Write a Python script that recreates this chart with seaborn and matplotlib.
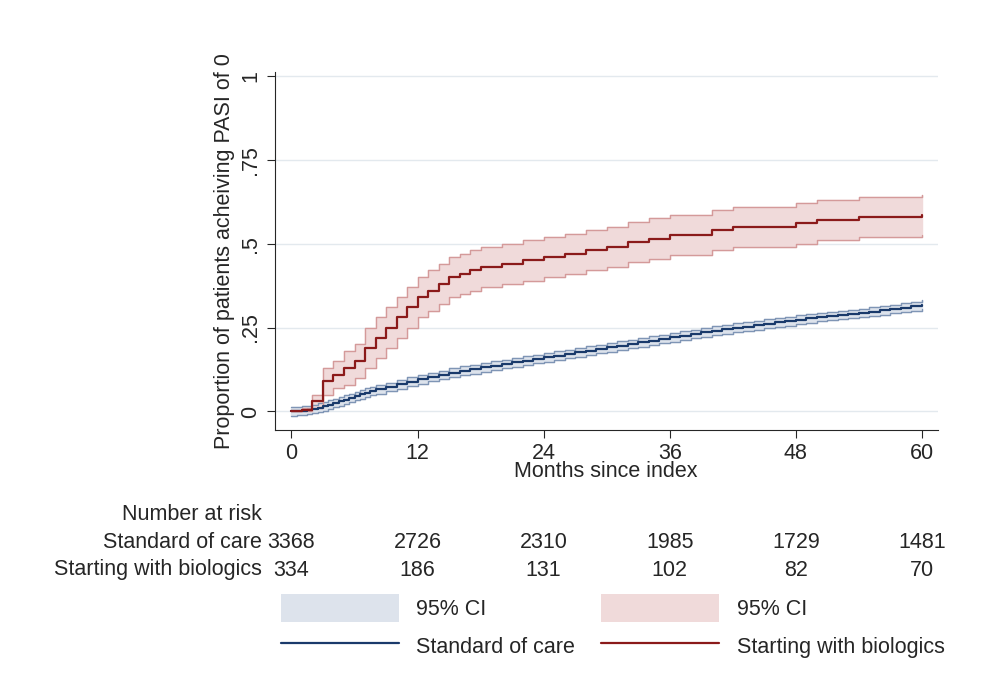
import numpy as np
import pandas as pd
import matplotlib.pyplot as plt
import matplotlib.transforms as mtransforms
from matplotlib.patches import Patch
from matplotlib.lines import Line2D
import seaborn as sns

# step curves (months, proportion)
bio_t = [0, 1, 2, 3, 4, 5, 6, 7, 8, 9, 10, 11, 12, 13, 14, 15, 16, 17, 18, 20, 22, 24, 26, 28, 30, 32, 34, 36, 40, 42, 48, 50, 54, 60]
bio_y = [0, 0.005, 0.03, 0.09, 0.11, 0.13, 0.15, 0.19, 0.22, 0.25, 0.28, 0.31, 0.34, 0.36, 0.38, 0.40, 0.41, 0.42, 0.43, 0.44, 0.45, 0.46, 0.47, 0.48, 0.49, 0.505, 0.515, 0.525, 0.54, 0.55, 0.56, 0.57, 0.58, 0.585]
bio_lo = [0, 0, 0.01, 0.05, 0.07, 0.08, 0.10, 0.13, 0.16, 0.19, 0.22, 0.25, 0.28, 0.30, 0.32, 0.34, 0.35, 0.36, 0.37, 0.38, 0.39, 0.40, 0.41, 0.42, 0.43, 0.445, 0.455, 0.465, 0.48, 0.49, 0.50, 0.51, 0.52, 0.525]
bio_hi = [0, 0.01, 0.05, 0.13, 0.15, 0.18, 0.20, 0.25, 0.28, 0.31, 0.34, 0.37, 0.40, 0.42, 0.44, 0.46, 0.47, 0.48, 0.49, 0.50, 0.51, 0.52, 0.53, 0.54, 0.55, 0.565, 0.575, 0.585, 0.60, 0.61, 0.62, 0.63, 0.64, 0.645]

soc_t = [0, 0.5, 1, 1.5, 2, 2.5, 3, 3.5, 4, 4.5, 5, 5.5, 6, 6.5, 7, 7.5, 8, 9, 10, 11, 12, 13, 14, 15, 16, 17, 18, 19, 20, 21, 22, 23, 24,
         25, 26, 27, 28, 29, 30, 31, 32, 33, 34, 35, 36, 37, 38, 39, 40, 41, 42, 43, 44, 45, 46, 47, 48, 49, 50, 51, 52, 53, 54, 55, 56, 57, 58, 59, 60]
soc_y = [0, 0.001, 0.002, 0.004, 0.007, 0.011, 0.015, 0.02, 0.025, 0.03, 0.035, 0.04, 0.046, 0.051, 0.056, 0.061, 0.066, 0.073, 0.081, 0.089, 0.096, 0.103, 0.109, 0.115, 0.121, 0.126, 0.131, 0.136, 0.141, 0.146, 0.151, 0.156, 0.161,
         0.166, 0.171, 0.176, 0.181, 0.186, 0.191, 0.196, 0.201, 0.206, 0.211, 0.216, 0.221, 0.226, 0.231, 0.236, 0.241, 0.245, 0.249, 0.253, 0.257, 0.261, 0.265, 0.269, 0.273, 0.277, 0.281, 0.284, 0.287, 0.290, 0.293, 0.297, 0.301, 0.305, 0.309, 0.313, 0.318]
soc_ci = 0.013

risk_times = [0, 12, 24, 36, 48, 60]
risk_soc = [3368, 2726, 2310, 1985, 1729, 1481]
risk_bio = [334, 186, 131, 102, 82, 70]

blue = "#1a3a6b"
red = "#8b1a1a"
blue_fill = "#dde3ec"
red_fill = "#f0dada"
fs = 15.5

sns.set_style("white")
plt.rcParams['font.family'] = ['Liberation Sans', 'DejaVu Sans']

fig = plt.figure(figsize=(9.88, 6.89), dpi=100)
ax = fig.add_axes([0.278, 0.376, 0.671, 0.519])

soc = pd.DataFrame({"t": soc_t, "y": soc_y})
bio = pd.DataFrame({"t": bio_t, "y": bio_y})

ax.fill_between(soc_t, np.array(soc_y) - soc_ci, np.array(soc_y) + soc_ci, step="post", color=blue_fill, zorder=1)
ax.step(soc_t, np.array(soc_y) - soc_ci, where="post", color="#7f95b5", lw=1, zorder=2)
ax.step(soc_t, np.array(soc_y) + soc_ci, where="post", color="#7f95b5", lw=1, zorder=2)
ax.fill_between(bio_t, bio_lo, bio_hi, step="post", color=red_fill, zorder=1)
ax.step(bio_t, bio_lo, where="post", color="#d49a9a", lw=1, zorder=2)
ax.step(bio_t, bio_hi, where="post", color="#d49a9a", lw=1, zorder=2)
sns.lineplot(data=soc, x="t", y="y", drawstyle="steps-post", color=blue, lw=1.6, ax=ax, zorder=3)
sns.lineplot(data=bio, x="t", y="y", drawstyle="steps-post", color=red, lw=1.6, ax=ax, zorder=3)

ax.set_xlim(-1.6, 61.5)
ax.set_ylim(-0.055, 1.01)
ax.set_xticks(risk_times)
ax.set_yticks([0, 0.25, 0.5, 0.75, 1])
ax.set_yticklabels(["0", ".25", ".5", ".75", "1"], rotation=90, va="center")
ax.yaxis.grid(True, color="#e3e9ee", lw=1)
ax.spines["top"].set_visible(False)
ax.spines["right"].set_visible(False)
ax.tick_params(axis="both", direction="out", length=6, labelsize=fs, left=True, bottom=True)
ax.set_xlabel("Months since index", fontsize=fs, labelpad=-2)
ax.set_ylabel("Proportion of patients acheiving PASI of 0", fontsize=fs)

# number at risk table
trans = mtransforms.blended_transform_factory(ax.transData, fig.transFigure)
fig.text(262 / 988, 1 - 515 / 689, "Number at risk", ha="right", va="center", fontsize=fs)
fig.text(262 / 988, 1 - 542 / 689, "Standard of care", ha="right", va="center", fontsize=fs)
fig.text(262 / 988, 1 - 570 / 689, "Starting with biologics", ha="right", va="center", fontsize=fs)
for t, a, b in zip(risk_times, risk_soc, risk_bio):
    ax.text(t, 1 - 542 / 689, str(a), transform=trans, ha="center", va="center", fontsize=fs)
    ax.text(t, 1 - 570 / 689, str(b), transform=trans, ha="center", va="center", fontsize=fs)

handles = [Patch(facecolor=blue_fill, edgecolor="none"), Line2D([], [], color=blue, lw=1.6),
           Patch(facecolor=red_fill, edgecolor="none"), Line2D([], [], color=red, lw=1.6)]
labels = ["95% CI", "Standard of care", "95% CI", "Starting with biologics"]
fig.legend(handles, labels, ncol=2, loc="center", bbox_to_anchor=(0.62, 0.09), frameon=False,
           fontsize=fs, handlelength=5.5, handleheight=1.6, columnspacing=1.2, labelspacing=0.5)

fig.savefig("out.png", dpi=100)
